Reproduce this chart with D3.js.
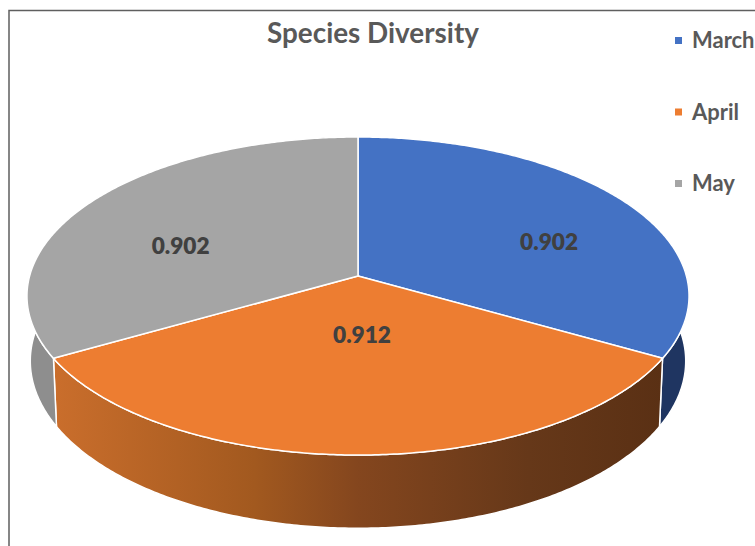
<!DOCTYPE html>
<html>
<head>
<meta charset="utf-8">
<script src="https://cdn.jsdelivr.net/npm/d3@7"></script>
<style>
  body { margin: 0; background: #ffffff; }
  svg { display: block; }
</style>
</head>
<body>
<svg id="chart" width="755" height="546"></svg>
<script>
// ---- data ----
const months = ["March", "April", "May"];
const diversity = [0.902, 0.912, 0.902];
const chartTitle = "Species Diversity";

// ---- styling ----
const faceColors = ["#4472C4", "#ED7D31", "#A5A5A5"];
const wallFills = ["#1F3561", "url(#aprilWall)", "#8E8E8E"];
const labelRadius = [0.668, 0.245, 0.62];   // radial position of each value label
const fontFamily = "Lato, 'Open Sans', sans-serif";

const svg = d3.select("#chart");
const defs = svg.append("defs");

// ---- tilted-disc projection ----
const cx = 358, cy = 276;        // projected centre of the disc
const ax = 328.4, by = 156.5;    // horizontal / vertical radius factors
const persp = -0.1258;           // perspective foreshortening (near side larger)
const depth = 64;                // slab thickness
const shrink = 0.99;             // base slightly narrower than the top

function project(angle, r, level) {
  const u = r * Math.sin(angle), v = -r * Math.cos(angle);
  const den = 1 + persp * v;
  const s = level ? shrink : 1;
  return [cx + ax * u / den * s, cy + by * v / den + level * depth / den];
}
function arcPoints(a0, a1, level) {
  const n = Math.max(8, Math.ceil(Math.abs(a1 - a0) / 0.01));
  return d3.range(n + 1).map(i => project(a0 + (a1 - a0) * i / n, 1, level));
}
const line = d3.line();

const slices = d3.pie().sort(null).value(d => d).startAngle(0).endAngle(2 * Math.PI)(diversity);

// shading across the front wall, light on the left, dark on the right
const wallEnds = [project(slices[1].startAngle, 1, 0)[0], project(slices[1].endAngle, 1, 0)[0]];
const grad = defs.append("linearGradient")
  .attr("id", "aprilWall")
  .attr("gradientUnits", "userSpaceOnUse")
  .attr("x1", d3.min(wallEnds))
  .attr("x2", d3.max(wallEnds))
  .attr("y1", 0).attr("y2", 0);
[[0, "#CA6E2C"], [0.33, "#A2591F"], [0.5, "#84461E"], [0.78, "#663819"], [1, "#5A3014"]]
  .forEach(([o, c]) => grad.append("stop").attr("offset", o).attr("stop-color", c));

// ---- frame ----
svg.append("path")
  .attr("d", "M9,546 V10.5 H755")
  .attr("fill", "none").attr("stroke", "#5f5f5f").attr("stroke-width", 1.5);

// ---- walls ----
const pie = svg.append("g");
pie.selectAll("path.wall").data(slices).join("path")
  .attr("class", "wall")
  .attr("d", d => line(arcPoints(d.startAngle, d.endAngle, 0)
                  .concat(arcPoints(d.endAngle, d.startAngle, 1))) + "Z")
  .attr("fill", (d, i) => wallFills[i])
  .attr("fill-rule", "nonzero")
  .attr("stroke", "#ffffff").attr("stroke-width", 1.5).attr("stroke-linejoin", "round");

// ---- top faces ----
pie.selectAll("path.face").data(slices).join("path")
  .attr("class", "face")
  .attr("d", d => line([[cx, cy]].concat(arcPoints(d.startAngle, d.endAngle, 0))) + "Z")
  .attr("fill", (d, i) => faceColors[i])
  .attr("stroke", "#ffffff").attr("stroke-width", 1.5).attr("stroke-linejoin", "round");

// ---- text helpers ----
function fitSize(text, width, weight) {
  const t = svg.append("text").attr("font-family", fontFamily)
    .attr("font-weight", weight).attr("font-size", 100).text(text);
  const w = t.node().getComputedTextLength();
  t.remove();
  return 100 * width / w;
}

// ---- value labels ----
const topY = project(0, 1, 0)[1], botY = project(Math.PI, 1, 0)[1];
const ellCy = (topY + botY) / 2, ellRy = (botY - topY) / 2;
const ellRx = d3.max(d3.range(0, Math.PI, 0.005), a => project(a, 1, 0)[0] - cx);
const labelSize = fitSize("0.902", 58, 700);
svg.append("g").selectAll("text").data(slices).join("text")
  .attr("x", (d, i) => cx + 4 * (i === 1) + ellRx * labelRadius[i] * Math.sin((d.startAngle + d.endAngle) / 2))
  .attr("y", (d, i) => ellCy - ellRy * labelRadius[i] * Math.cos((d.startAngle + d.endAngle) / 2))
  .attr("dy", "0.35em")
  .attr("text-anchor", "middle")
  .attr("font-family", fontFamily).attr("font-weight", 800)
  .attr("font-size", labelSize).attr("fill", "#404040")
  .text(d => d3.format(".3f")(d.data));

// ---- title ----
svg.append("text")
  .attr("x", 373).attr("y", 43)
  .attr("text-anchor", "middle")
  .attr("font-family", fontFamily).attr("font-weight", 700)
  .attr("font-size", fitSize(chartTitle, 212, 700))
  .attr("fill", "#595959")
  .text(chartTitle);

// ---- legend ----
const legendSize = fitSize("April", 47, 700);
const legendY = d3.scalePoint().domain(months).range([40.5, 183.5]);
const legend = svg.append("g").selectAll("g").data(months).join("g")
  .attr("transform", d => `translate(675,${legendY(d)})`);
legend.append("rect")
  .attr("x", 0).attr("y", -3.5).attr("width", 7).attr("height", 7)
  .attr("fill", (d, i) => faceColors[i]);
legend.append("text")
  .attr("x", 17).attr("y", 7.5)
  .attr("font-family", fontFamily).attr("font-weight", 700)
  .attr("font-size", legendSize).attr("fill", "#595959")
  .text(d => d);
</script>
</body>
</html>
